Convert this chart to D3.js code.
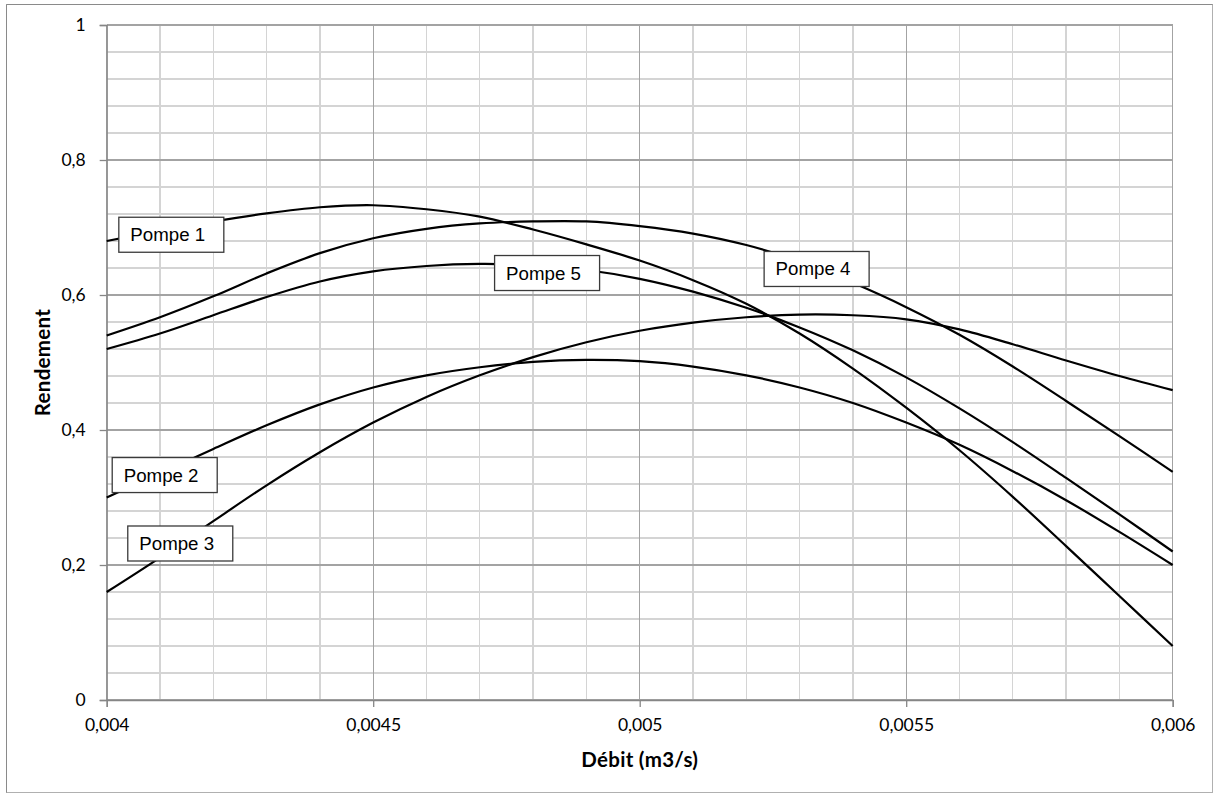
<!DOCTYPE html>
<html>
<head>
<meta charset="utf-8">
<script src="https://cdn.jsdelivr.net/npm/d3@7"></script>
<style>
  body { margin: 0; background: #fff; }
  .tick-label { font-family: Lato, "Open Sans", sans-serif; font-size: 17.5px; fill: #000; }
  .axis-title { font-family: Lato, "Open Sans", sans-serif; font-size: 20.5px; font-weight: bold; fill: #000; letter-spacing: 0.3px; }
  .pump-label { font-family: "Liberation Sans", Arial, sans-serif; font-size: 18.7px; fill: #000; }
</style>
</head>
<body>
<script>
//Width and height
var w = 1215;
var h = 794;
var margin = { left: 106.7, right: 1172.7, top: 25, bottom: 700 };

//Flow rate (m3/s) at each sampled point
var debit = [0.004, 0.0041, 0.0042, 0.0043, 0.0044, 0.0045, 0.0046, 0.0047, 0.0048, 0.0049, 0.005,
  0.0051, 0.0052, 0.0053, 0.0054, 0.0055, 0.0056, 0.0057, 0.0058, 0.0059, 0.006];

//Efficiency of each pump
var pompe1 = [0.680, 0.695, 0.709, 0.721, 0.730, 0.733, 0.727, 0.716, 0.697, 0.675, 0.651,
  0.622, 0.587, 0.543, 0.491, 0.433, 0.370, 0.301, 0.228, 0.154, 0.080];
var pompe2 = [0.300, 0.336, 0.372, 0.407, 0.438, 0.463, 0.481, 0.493, 0.501, 0.504, 0.502,
  0.494, 0.481, 0.463, 0.440, 0.411, 0.378, 0.339, 0.296, 0.249, 0.200];
var pompe3 = [0.160, 0.211, 0.265, 0.318, 0.367, 0.411, 0.449, 0.481, 0.508, 0.530, 0.547,
  0.559, 0.567, 0.571, 0.570, 0.564, 0.549, 0.527, 0.503, 0.480, 0.459];
var pompe4 = [0.540, 0.567, 0.598, 0.632, 0.662, 0.684, 0.698, 0.706, 0.709, 0.709, 0.702,
  0.691, 0.674, 0.650, 0.618, 0.582, 0.541, 0.494, 0.443, 0.391, 0.338];
var pompe5 = [0.520, 0.543, 0.570, 0.597, 0.620, 0.635, 0.643, 0.646, 0.644, 0.637, 0.624,
  0.605, 0.581, 0.552, 0.518, 0.478, 0.432, 0.382, 0.329, 0.275, 0.220];

var seriesNames = ["Pompe 1", "Pompe 2", "Pompe 3", "Pompe 4", "Pompe 5"];
var seriesValues = [pompe1, pompe2, pompe3, pompe4, pompe5];

//Where each name box sits (left edge in m3/s, middle in efficiency)
var labelDebit = [0.0040218, 0.0040094, 0.0040386, 0.0052325, 0.0047268];
var labelRendement = [0.690, 0.334, 0.2326, 0.6393, 0.6333];

//Tick values and their labels
var xTicks = [0.004, 0.0045, 0.005, 0.0055, 0.006];
var xTickLabels = ["0,004", "0,0045", "0,005", "0,0055", "0,006"];
var yTicks = [0, 0.2, 0.4, 0.6, 0.8, 1];
var yTickLabels = ["0", "0,2", "0,4", "0,6", "0,8", "1"];
var xMinor = d3.range(0, 21).map(function (i) { return 0.004 + i * 0.0001; });
var yMinor = d3.range(0, 26).map(function (i) { return i * 0.04; });

//Create scale functions
var xScale = d3.scaleLinear().domain([0.004, 0.006]).range([margin.left, margin.right]);
var yScale = d3.scaleLinear().domain([0, 1]).range([margin.bottom, margin.top]);

//Create SVG element
var svg = d3.select("body").append("svg").attr("width", w).attr("height", h);

//Chart border
svg.append("rect")
  .attr("x", 6.5).attr("y", 4.5).attr("width", 1206).attr("height", 788)
  .attr("fill", "#fff").attr("stroke", "#b0b0b0");
svg.append("path")
  .attr("d", "M6.5,792.5V4.5H1212.5")
  .attr("fill", "none").attr("stroke", "#8a8a8a");

//Minor grid
var grid = svg.append("g").attr("shape-rendering", "crispEdges");
grid.selectAll(".vminor").data(xMinor).enter().append("line")
  .attr("x1", function (d) { return xScale(d); })
  .attr("x2", function (d) { return xScale(d); })
  .attr("y1", margin.top).attr("y2", margin.bottom)
  .attr("stroke", "#d4d4d4").attr("stroke-width", 1.3);
grid.selectAll(".hminor").data(yMinor).enter().append("line")
  .attr("x1", margin.left).attr("x2", margin.right)
  .attr("y1", function (d) { return yScale(d); })
  .attr("y2", function (d) { return yScale(d); })
  .attr("stroke", "#d4d4d4").attr("stroke-width", 1.3);

//Major grid
grid.selectAll(".vmajor").data(xTicks).enter().append("line")
  .attr("x1", function (d) { return xScale(d); })
  .attr("x2", function (d) { return xScale(d); })
  .attr("y1", margin.top).attr("y2", margin.bottom)
  .attr("stroke", "#a3a3a3").attr("stroke-width", 1.3);
grid.selectAll(".hmajor").data(yTicks).enter().append("line")
  .attr("x1", margin.left).attr("x2", margin.right)
  .attr("y1", function (d) { return yScale(d); })
  .attr("y2", function (d) { return yScale(d); })
  .attr("stroke", "#a3a3a3").attr("stroke-width", 1.3);

//Define axes
var xAxis = d3.axisBottom(xScale).tickValues(xTicks).tickSize(7).tickPadding(8)
  .tickFormat(function (d, i) { return xTickLabels[i]; });
var yAxis = d3.axisLeft(yScale).tickValues(yTicks).tickSize(7).tickPadding(14)
  .tickFormat(function (d, i) { return yTickLabels[i]; });

var gx = svg.append("g")
  .attr("transform", "translate(0," + margin.bottom + ")")
  .call(xAxis);
var gy = svg.append("g")
  .attr("transform", "translate(" + margin.left + ",0)")
  .call(yAxis);

[gx, gy].forEach(function (g) {
  g.select(".domain").attr("stroke", "#868686").attr("stroke-width", 1.3);
  g.selectAll(".tick line").attr("stroke", "#868686").attr("stroke-width", 1.3);
  g.selectAll(".tick text").attr("class", "tick-label").attr("font-size", null).attr("font-family", null);
});
gx.selectAll(".tick text").attr("dy", "0.9em");

//Axis titles
svg.append("text")
  .attr("class", "axis-title")
  .attr("x", xScale(0.005))
  .attr("y", 767)
  .attr("text-anchor", "middle")
  .text("Débit (m3/s)");

svg.append("text")
  .attr("class", "axis-title")
  .attr("transform", "translate(50," + yScale(0.5) + ") rotate(-90)")
  .attr("text-anchor", "middle")
  .text("Rendement");

//Define line generator
var line = d3.line()
  .x(function (d, i) { return xScale(debit[i]); })
  .y(function (d) { return yScale(d); })
  .curve(d3.curveCardinal);

//Create lines
svg.selectAll(".pompe")
  .data(seriesValues)
  .enter()
  .append("path")
  .attr("class", "pompe")
  .attr("d", line)
  .attr("fill", "none")
  .attr("stroke", "#000")
  .attr("stroke-width", 2.2);

//Name boxes
var boxes = svg.selectAll(".label-box")
  .data(seriesNames)
  .enter()
  .append("g")
  .attr("class", "label-box")
  .attr("transform", function (d, i) {
    return "translate(" + xScale(labelDebit[i]) + "," + (yScale(labelRendement[i]) - 17.5) + ")";
  });

boxes.append("rect")
  .attr("x", 0.5).attr("y", 0.5)
  .attr("width", 105).attr("height", 35)
  .attr("fill", "#fff")
  .attr("stroke", "#3a3a3a")
  .attr("stroke-width", 1.3);

boxes.append("text")
  .attr("class", "pump-label")
  .attr("x", 12)
  .attr("y", 24.5)
  .text(function (d) { return d; });
</script>
</body>
</html>
